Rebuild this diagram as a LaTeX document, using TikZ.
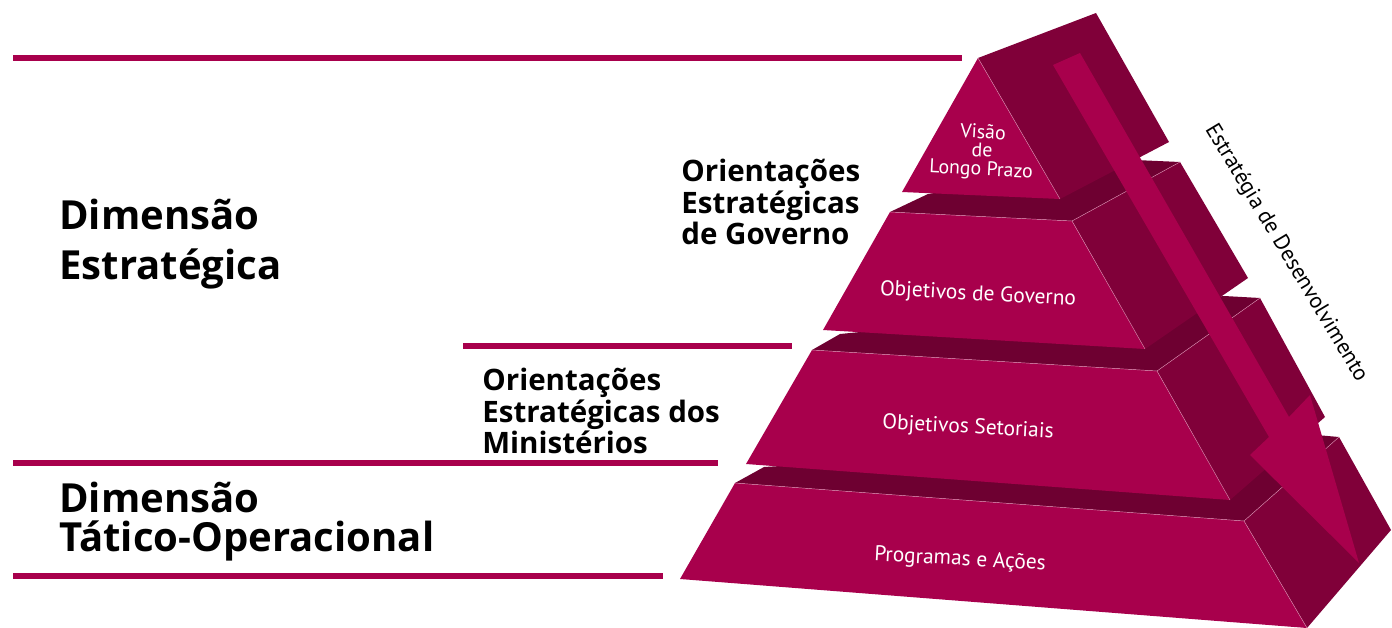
\documentclass[tikz,border=0pt]{standalone}
\usepackage{fontspec}
\setmainfont{PT Sans}
\newfontfamily\headfont{Open Sans}
\definecolor{frontcol}{RGB}{168,0,76}
\definecolor{sidecol}{RGB}{128,0,57}
\definecolor{topcol}{RGB}{110,0,49}
\tikzset{
  front/.style={fill=frontcol},
  sideface/.style={fill=sidecol},
  topface/.style={fill=topcol},
  seam/.style={draw=frontcol!45!white,line width=0.25pt},
  bar/.style={draw=frontcol,line width=3.4pt},
  dimtext/.style={font=\headfont\bfseries\fontsize{22.8pt}{28.3pt}\selectfont,align=left,anchor=north west,inner sep=0pt},
  orienttext/.style={font=\headfont\bfseries\fontsize{16.8pt}{17.9pt}\selectfont,align=left,anchor=north west,inner sep=0pt},
  tierlabel/.style={text=white,font=\fontsize{12.2pt}{14pt}\selectfont,align=center,inner sep=0pt}
}

\begin{document}
\begin{tikzpicture}[x=0.02cm,y=-0.02cm]
  \useasboundingbox (0,0) rectangle (1392,628);

  % separating bars
  \draw[bar] (13,58) -- (962,58);
  \draw[bar] (463,346) -- (792,346);
  \draw[bar] (13,463) -- (718,463);
  \draw[bar] (13,576) -- (663,576);

  % tier 4: Programas e Acoes
  \fill[topface] (735,483) -- (1244,521) -- (1339,437) -- (1305,434) -- (764,467) -- cycle;
  \fill[sideface] (1244,521) -- (1339,437) -- (1391,530) -- (1307,628) -- cycle;
  \fill[front] (735,483) -- (1244,521) -- (1307,628) -- (680,579) -- cycle;
  \draw[seam] (735,483) -- (1244,521) -- (1307,628) (1244,521) -- (1339,437);

  % tier 3: Objetivos Setoriais
  \fill[topface] (812,350) -- (1157,371) -- (1260,298) -- (1224,296) -- (840,334) -- cycle;
  \fill[sideface] (1157,371) -- (1260,298) -- (1325,417) -- (1230,500) -- cycle;
  \fill[front] (812,350) -- (1157,371) -- (1230,500) -- (746,464) -- cycle;
  \draw[seam] (812,350) -- (1157,371) -- (1230,500) (1157,371) -- (1260,298);

  % tier 2: Objetivos de Governo
  \fill[topface] (890,212) -- (1072,221) -- (1180,162) -- (1135,160) -- (928,194) -- cycle;
  \fill[sideface] (1072,221) -- (1180,162) -- (1248,278) -- (1145,349) -- cycle;
  \fill[front] (890,212) -- (1072,221) -- (1145,349) -- (823,330) -- cycle;
  \draw[seam] (890,212) -- (1072,221) -- (1145,349) (1072,221) -- (1180,162);

  % tier 1: Visao de Longo Prazo
  \fill[sideface] (978,58) -- (1096,13) -- (1169,142) -- (1060,199) -- cycle;
  \fill[front] (978,58) -- (1060,199) -- (902,192) -- cycle;
  \draw[seam] (978,58) -- (1060,199);

  % arrow
  \fill[front] (1053,65) -- (1080,53) -- (1289,417) -- (1310,395) -- (1359,563)
    -- (1250,455) -- (1269,437) -- cycle;

  % texts
  \node[dimtext] (dimEst) at (59,199) {Dimensão\\Estratégica};
  \node[orienttext] (orientGov) at (681,159) {Orientações\\Estratégicas\\de Governo};
  \node[orienttext] (orientMin) at (482,368) {Orientações\\Estratégicas dos\\Ministérios};
  \node[dimtext,font=\headfont\bfseries\fontsize{22.8pt}{22.1pt}\selectfont] (dimTat) at (59,482) {Dimensão\\Tático-Operacional};

  \node[tierlabel,font=\fontsize{11.3pt}{10.5pt}\selectfont,rotate=-3] (visao) at (982,152) {Visão\\de\\Longo Prazo};
  \node[tierlabel,rotate=-3] (objGov) at (978,295) {Objetivos de Governo};
  \node[tierlabel,rotate=-3] (objSet) at (968,428) {Objetivos Setoriais};
  \node[tierlabel,rotate=-3] (prog) at (960,560) {Programas e Ações};
  \node[font=\fontsize{12.7pt}{14pt}\selectfont,rotate=-59,inner sep=0pt] (estrat) at (1286,253) {Estratégia de Desenvolvimento};
\end{tikzpicture}
\end{document}
